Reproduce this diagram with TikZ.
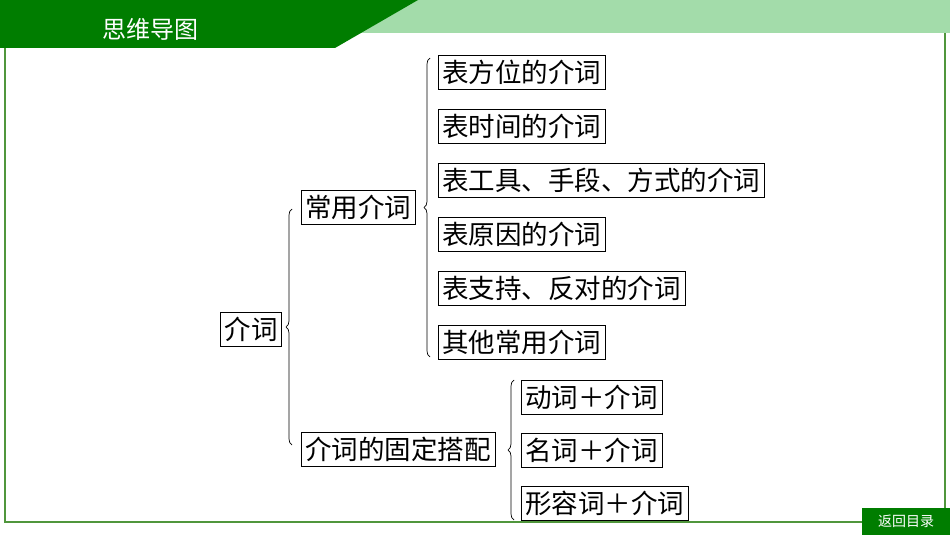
\documentclass[tikz,border=0pt]{standalone}
\usepackage{fontspec}
\newfontfamily\cjk{Noto Sans CJK SC}
\usetikzlibrary{decorations.pathreplacing}
\definecolor{dg}{RGB}{0,125,0}
\definecolor{lg}{RGB}{163,220,170}
\definecolor{fg}{RGB}{80,150,60}
\begin{document}
\begin{tikzpicture}[x=1pt,y=-1pt,
 box/.style={draw,line width=0.8pt,inner ysep=1.5pt,inner xsep=4pt,font=\cjk\fontsize{26.5}{28}\selectfont,text height=25pt,text depth=4pt,minimum height=34pt},
 br/.style={decorate,decoration={brace,amplitude=6pt},line width=0.7pt}]
\useasboundingbox (0,0) rectangle (950,535);
\fill[white] (0,0) rectangle (950,535);
\fill[lg] (0,0) -- (950,0) -- (950,33) -- (0,33) -- cycle;
\fill[dg] (0,0) -- (418,0) -- (335,48) -- (0,48) -- cycle;
\draw[fg,line width=1.5pt] (5,48) -- (5,522) -- (945,522) -- (945,33);
\node[white,font=\cjk\fontsize{24}{26}\selectfont] (title) at (150,29) {思维导图};
\fill[dg] (862,508) rectangle (950,535);
\node[white,font=\cjk\fontsize{14}{16}\selectfont] (back) at (906,521) {返回目录};
\node[box] (root) at (251,329) {介词};
\node[box,anchor=west] (a) at (301,207) {常用介词};
\node[box,anchor=west] (b) at (301,449) {介词的固定搭配};
\node[box,anchor=west] (a1) at (438,72) {表方位的介词};
\node[box,anchor=west] (a2) at (438,126) {表时间的介词};
\node[box,anchor=west] (a3) at (438,180) {表工具、手段、方式的介词};
\node[box,anchor=west] (a4) at (438,234) {表原因的介词};
\node[box,anchor=west] (a5) at (438,288) {表支持、反对的介词};
\node[box,anchor=west] (a6) at (438,342) {其他常用介词};
\node[box,anchor=west] (b1) at (521,397) {动词＋介词};
\node[box,anchor=west] (b2) at (521,450) {名词＋介词};
\node[box,anchor=west] (b3) at (521,503) {形容词＋介词};
\coordinate (p1) at (292,445); \coordinate (p2) at (292,209);
\draw[br] (p1) -- (p2);
\coordinate (q1) at (430,357); \coordinate (q2) at (430,58);
\draw[br] (q1) -- (q2);
\coordinate (r1) at (514,520); \coordinate (r2) at (514,380);
\draw[br] (r1) -- (r2);
\end{tikzpicture}
\end{document}
